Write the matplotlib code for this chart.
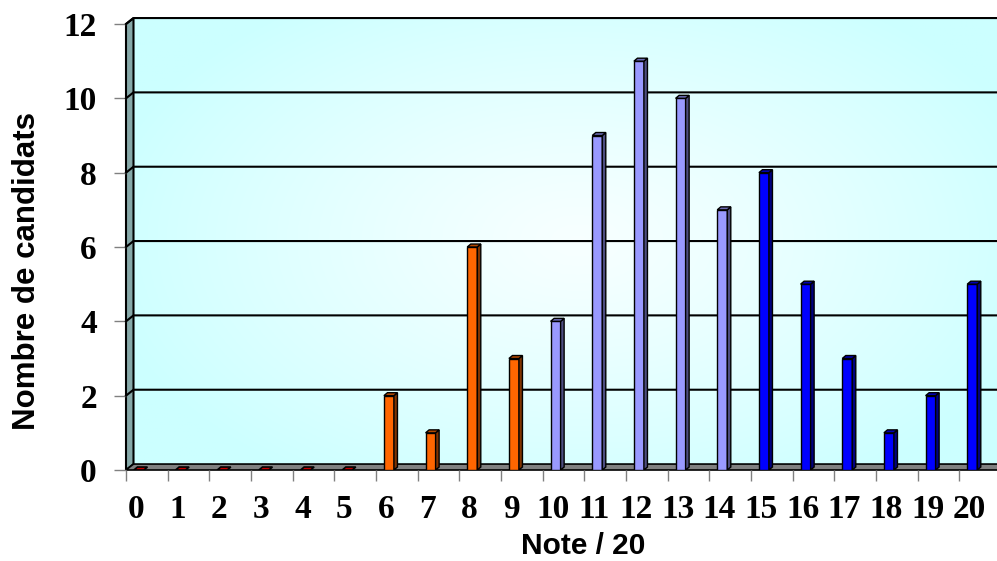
import numpy as np
import matplotlib
matplotlib.use('Agg')
import matplotlib.pyplot as plt

# data
notes = list(range(21))
candidats = [0, 0, 0, 0, 0, 0, 2, 1, 6, 3, 4, 9, 11, 10, 7, 8, 5, 3, 1, 2, 5]
groupe = ['bas'] * 10 + ['moyen'] * 5 + ['haut'] * 6
y_ticks = [0, 2, 4, 6, 8, 10, 12]

# colours: front, side, top
couleurs = {
    'bas': ('#FF6600', '#803300', '#B34700'),
    'moyen': ('#9999FF', '#4D4D80', '#6B6BB3'),
    'haut': ('#0000FF', '#000080', '#0000B3'),
}

fig = plt.figure(figsize=(9.97, 5.61), dpi=100)
ax = fig.add_axes([126 / 997, 91 / 561, 875 / 997, 446 / 561])
ax.set_xlim(-0.5, 20.5)
ax.set_ylim(0, 12)

# depth of the wall and of the bars (data units)
dxw, dyw = 0.18, 0.16
dxb, dyb = 0.085, 0.08
bw = 0.24
shift = -0.19

# back wall with radial gradient
nx, ny = 400, 200
gx, gy = np.meshgrid(np.linspace(0, 1, nx), np.linspace(0, 1, ny))
t = np.sqrt(((gx - 0.5) / 0.55) ** 2 + ((gy - 0.5) / 0.65) ** 2)
t = np.clip(t, 0, 1) ** 1.2
c_in = np.array([0.97, 1.0, 1.0])
c_out = np.array([0.80, 1.0, 1.0])
img = c_in[None, None, :] * (1 - t[..., None]) + c_out[None, None, :] * t[..., None]
ax.imshow(img, extent=(-0.5 + dxw, 20.5 + dxw + 0.3, dyw, 12 + dyw), origin='lower',
          aspect='auto', zorder=0, clip_on=False)

# left wall and floor
ax.fill([-0.5, -0.5 + dxw, -0.5 + dxw, -0.5], [0, dyw, 12 + dyw, 12],
        facecolor='#86A8A8', edgecolor='black', lw=1.5, zorder=1, clip_on=False)
ax.fill([-0.5, 20.5 + 0.3, 20.5 + 0.3 + dxw, -0.5 + dxw], [0, 0, dyw, dyw],
        facecolor='#808080', edgecolor='black', lw=1.2, zorder=1, clip_on=False)

# gridlines on the back wall
for k in y_ticks[1:]:
    ax.plot([-0.5, -0.5 + dxw, 21.5], [k, k + dyw, k + dyw], color='black', lw=1.5,
            zorder=2, clip_on=False)

# bars
for n, h, g in zip(notes, candidats, groupe):
    front, side, top = couleurs[g]
    x0 = n + shift - bw / 2
    x1 = x0 + bw
    if h > 0:
        ax.fill([x0, x1, x1, x0], [0, 0, h, h], facecolor=front, edgecolor='black', lw=1, zorder=4)
        ax.fill([x1, x1 + dxb, x1 + dxb, x1], [0, dyb, h + dyb, h], facecolor=side,
                edgecolor='black', lw=1, zorder=4)
        ax.fill([x0, x1, x1 + dxb, x0 + dxb], [h, h, h + dyb, h + dyb], facecolor=top,
                edgecolor='black', lw=1, zorder=4)
    else:
        ax.fill([x0, x1, x1 + dxb, x0 + dxb], [0, 0, dyb, dyb], facecolor='#C00000',
                edgecolor='black', lw=1.2, zorder=4)

for s in ax.spines.values():
    s.set_visible(False)

ax.set_yticks(y_ticks)
ax.set_yticklabels([str(v) for v in y_ticks], fontfamily='Liberation Serif',
                   fontweight='bold', fontsize=24)
ax.tick_params(axis='y', length=9, width=1, color='#808080', pad=12)

ax.set_xticks(np.arange(-0.5, 21, 1))
ax.set_xticklabels([])
ax.tick_params(axis='x', length=8, width=1, color='#808080')
for n in notes:
    ax.text(n - 0.26, -1.29, str(n), ha='center', va='baseline', fontfamily='Liberation Serif',
            fontweight='bold', fontsize=24)

fig.text(27 / 997, 1 - 271 / 561, 'Nombre de candidats', rotation=90, ha='center', va='center',
         fontfamily='Liberation Sans', fontweight='bold', fontsize=22.5)
fig.text(583 / 997, 1 - 554 / 561, 'Note / 20', ha='center', va='baseline',
         fontfamily='Liberation Sans', fontweight='bold', fontsize=21.5)

fig.savefig('out.png', dpi=100)
